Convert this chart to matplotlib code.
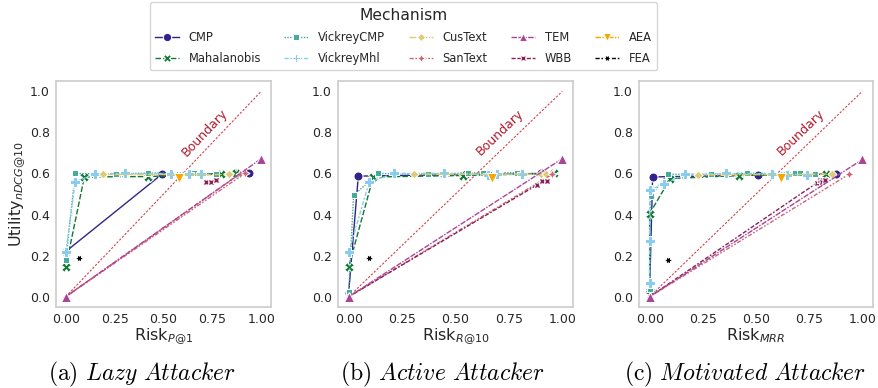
import matplotlib
matplotlib.use("Agg")
import matplotlib.pyplot as plt
from matplotlib.lines import Line2D

MECHANISMS = ["CMP", "Mahalanobis", "VickreyCMP", "VickreyMhl", "CusText",
              "SanText", "TEM", "WBB", "AEA", "FEA"]

# risk / utility per mechanism
LAZY_RISK = {
    "CMP": [0.0, 0.49, 0.865, 0.935],
    "Mahalanobis": [0.0, 0.095, 0.42, 0.795, 0.87],
    "VickreyCMP": [0.0, 0.048, 0.256, 0.42, 0.655, 0.77],
    "VickreyMhl": [0.0, 0.048, 0.147, 0.304, 0.538, 0.63, 0.69],
    "CusText": [0.19, 0.834],
    "SanText": [0.89, 0.0, 0.915],
    "TEM": [0.0, 1.0],
    "WBB": [0.72, 0.745, 0.77],
    "AEA": [0.58],
    "FEA": [0.07],
}
LAZY_UTIL = {
    "CMP": [0.22, 0.595, 0.6, 0.6],
    "Mahalanobis": [0.146, 0.583, 0.585, 0.597, 0.6],
    "VickreyCMP": [0.178, 0.6, 0.596, 0.602, 0.602, 0.597],
    "VickreyMhl": [0.218, 0.558, 0.598, 0.6, 0.598, 0.597, 0.596],
    "CusText": [0.596, 0.596],
    "SanText": [0.597, 0.0, 0.6],
    "TEM": [0.0, 0.672],
    "WBB": [0.558, 0.558, 0.566],
    "AEA": [0.58],
    "FEA": [0.19],
}

ACTIVE_RISK = {
    "CMP": [0.0, 0.045, 0.55, 0.9],
    "Mahalanobis": [0.0, 0.115, 0.533, 0.96],
    "VickreyCMP": [0.0, 0.023, 0.138, 0.372, 0.559, 0.629, 0.79],
    "VickreyMhl": [0.0, 0.096, 0.213, 0.444, 0.65, 0.696, 0.813],
    "CusText": [0.304, 0.899, 0.922],
    "SanText": [0.0, 0.953],
    "TEM": [0.0, 1.0],
    "WBB": [0.0, 0.883, 0.907, 0.93],
    "AEA": [0.673],
    "FEA": [0.093],
}
ACTIVE_UTIL = {
    "CMP": [0.02, 0.587, 0.595, 0.6],
    "Mahalanobis": [0.146, 0.583, 0.59, 0.6],
    "VickreyCMP": [0.025, 0.494, 0.6, 0.597, 0.602, 0.604, 0.604],
    "VickreyMhl": [0.218, 0.558, 0.6, 0.601, 0.592, 0.596, 0.597],
    "CusText": [0.596, 0.597, 0.597],
    "SanText": [0.0, 0.596],
    "TEM": [0.0, 0.672],
    "WBB": [0.0, 0.545, 0.562, 0.562],
    "AEA": [0.58],
    "FEA": [0.19],
}

MOTIVATED_RISK = {
    "CMP": [0.0, 0.014, 0.511, 0.878],
    "Mahalanobis": [0.0, 0.0, 0.097, 0.42, 0.831],
    "VickreyCMP": [0.0, 0.005, 0.084, 0.288, 0.459, 0.683, 0.706, 0.776],
    "VickreyMhl": [0.0, 0.0, 0.0, 0.069, 0.167, 0.36, 0.574, 0.644, 0.74],
    "CusText": [0.225, 0.858],
    "SanText": [0.0, 0.937],
    "TEM": [0.0, 1.0],
    "WBB": [0.0, 0.785, 0.8, 0.81, 0.823],
    "AEA": [0.616],
    "FEA": [0.084],
}
MOTIVATED_UTIL = {
    "CMP": [0.03, 0.583, 0.592, 0.597],
    "Mahalanobis": [0.03, 0.405, 0.575, 0.59, 0.597],
    "VickreyCMP": [0.04, 0.49, 0.596, 0.595, 0.6, 0.602, 0.602, 0.596],
    "VickreyMhl": [0.065, 0.272, 0.518, 0.55, 0.596, 0.6, 0.597, 0.592, 0.594],
    "CusText": [0.592, 0.597],
    "SanText": [0.0, 0.596],
    "TEM": [0.0, 0.668],
    "WBB": [0.0, 0.553, 0.57, 0.56, 0.567],
    "AEA": [0.578],
    "FEA": [0.18],
}

PANELS = [
    (LAZY_RISK, LAZY_UTIL, r"Risk$_{P@1}$", r"$\mathrm{(a)}\ \mathit{Lazy\ Attacker}$"),
    (ACTIVE_RISK, ACTIVE_UTIL, r"Risk$_{R@10}$", r"$\mathrm{(b)}\ \mathit{Active\ Attacker}$"),
    (MOTIVATED_RISK, MOTIVATED_UTIL, r"Risk$_{MRR}$", r"$\mathrm{(c)}\ \mathit{Motivated\ Attacker}$"),
]

# styling (seaborn-like markers and dashes, muted palette)
COLORS = ["#332288", "#117733", "#44AA99", "#88CCEE", "#DDCC77",
          "#CC6677", "#AA4499", "#882255", "#F2A900", "#000000"]
MARKERS = ["o", "X", (4, 0, 45), "P", (4, 0, 0), (4, 1, 0), "^", (4, 1, 45), "v", (6, 1, 30)]
DASHES = [None, (4, 1.5), (1, 1), (3, 1.25, 1.5, 1.25), (5, 1, 1, 1),
          (3, 1.25, 1.25, 1.25, 1.25, 1.25), (4, 1, 4, 1, 1, 1),
          (3, 1.25, 3, 1.25, 1.25, 1.25), (4, 1, 1, 1, 1, 1),
          (3, 1.25, 1.25, 1.25, 1.25, 1.25, 1.25, 1.25)]

plt.rcParams["font.family"] = "DejaVu Sans"
plt.rcParams["axes.edgecolor"] = "0.8"
plt.rcParams["text.color"] = "0.15"
plt.rcParams["xtick.color"] = "0.15"
plt.rcParams["ytick.color"] = "0.15"
plt.rcParams["axes.labelcolor"] = "0.15"

AXES_POS = [
    [56 / 879, 81 / 388, 215 / 879, 226 / 388],
    [338 / 879, 81 / 388, 235 / 879, 226 / 388],
    [639 / 879, 81 / 388, 234 / 879, 226 / 388],
]
CAPTION_X = [142 / 879, 443 / 879, 745 / 879]


def style_kwargs(i, ms=6.5):
    kw = dict(color=COLORS[i], marker=MARKERS[i], markersize=ms, linewidth=1.0,
              markeredgecolor="w", markeredgewidth=0.75)
    if DASHES[i] is None:
        kw["linestyle"] = "-"
    else:
        kw["dashes"] = DASHES[i]
    return kw


def main():
    fig = plt.figure(figsize=(8.79, 3.88), dpi=100)

    for k, (risk, util, xlabel, caption) in enumerate(PANELS):
        ax = fig.add_axes([AXES_POS[k][0], 1 - AXES_POS[k][1] - AXES_POS[k][3],
                           AXES_POS[k][2], AXES_POS[k][3]])
        ax.plot([0, 1], [0, 1], color="#d3404f", linewidth=0.8, dashes=(2, 1.5), zorder=1)
        ax.text(0.71, 0.80, "Boundary", color="#b01a2e", fontsize=9,
                rotation=45, rotation_mode="anchor", ha="center", va="center",
                transform_rotates_text=True)

        for i, name in enumerate(MECHANISMS):
            # TEM marker sits on top at the origin, as in the original
            z = 2.5 if name == "TEM" else 2
            ax.plot(risk[name], util[name], zorder=z, **style_kwargs(i))

        ax.set_xlim(-0.05, 1.05)
        ax.set_ylim(-0.05, 1.05)
        ax.set_xticks([0.0, 0.25, 0.5, 0.75, 1.0])
        ax.set_xticklabels(["0.00", "0.25", "0.50", "0.75", "1.00"])
        ax.set_yticks([0.0, 0.2, 0.4, 0.6, 0.8, 1.0])
        ax.set_yticklabels(["0.0", "0.2", "0.4", "0.6", "0.8", "1.0"])
        ax.tick_params(length=0, labelsize=9, pad=4.5)
        for sp in ax.spines.values():
            sp.set_linewidth(1.2)
        ax.set_xlabel(xlabel, fontsize=11.5, labelpad=0)
        if k == 0:
            ax.set_ylabel(r"Utility$_{nDCG@10}$", fontsize=11.5, labelpad=2)

        fig.text(CAPTION_X[k], 1 - 380 / 388, caption, math_fontfamily="cm", fontsize=17,
                 ha="center", va="baseline", color="black")

    handles = [Line2D([], [], **style_kwargs(i, ms=6)) for i in range(len(MECHANISMS))]
    fig.legend(handles, MECHANISMS, title="Mechanism", ncol=5, loc="upper center",
               bbox_to_anchor=(0.459, 0.994), borderaxespad=0.0,
               fontsize=8.3, title_fontsize=11.2,
               frameon=True, edgecolor="0.8", columnspacing=2.0, handlelength=2.1,
               handletextpad=0.85, borderpad=0.45, labelspacing=0.7)

    fig.savefig("out.png", dpi=100)
    plt.close(fig)


if __name__ == "__main__":
    main()
